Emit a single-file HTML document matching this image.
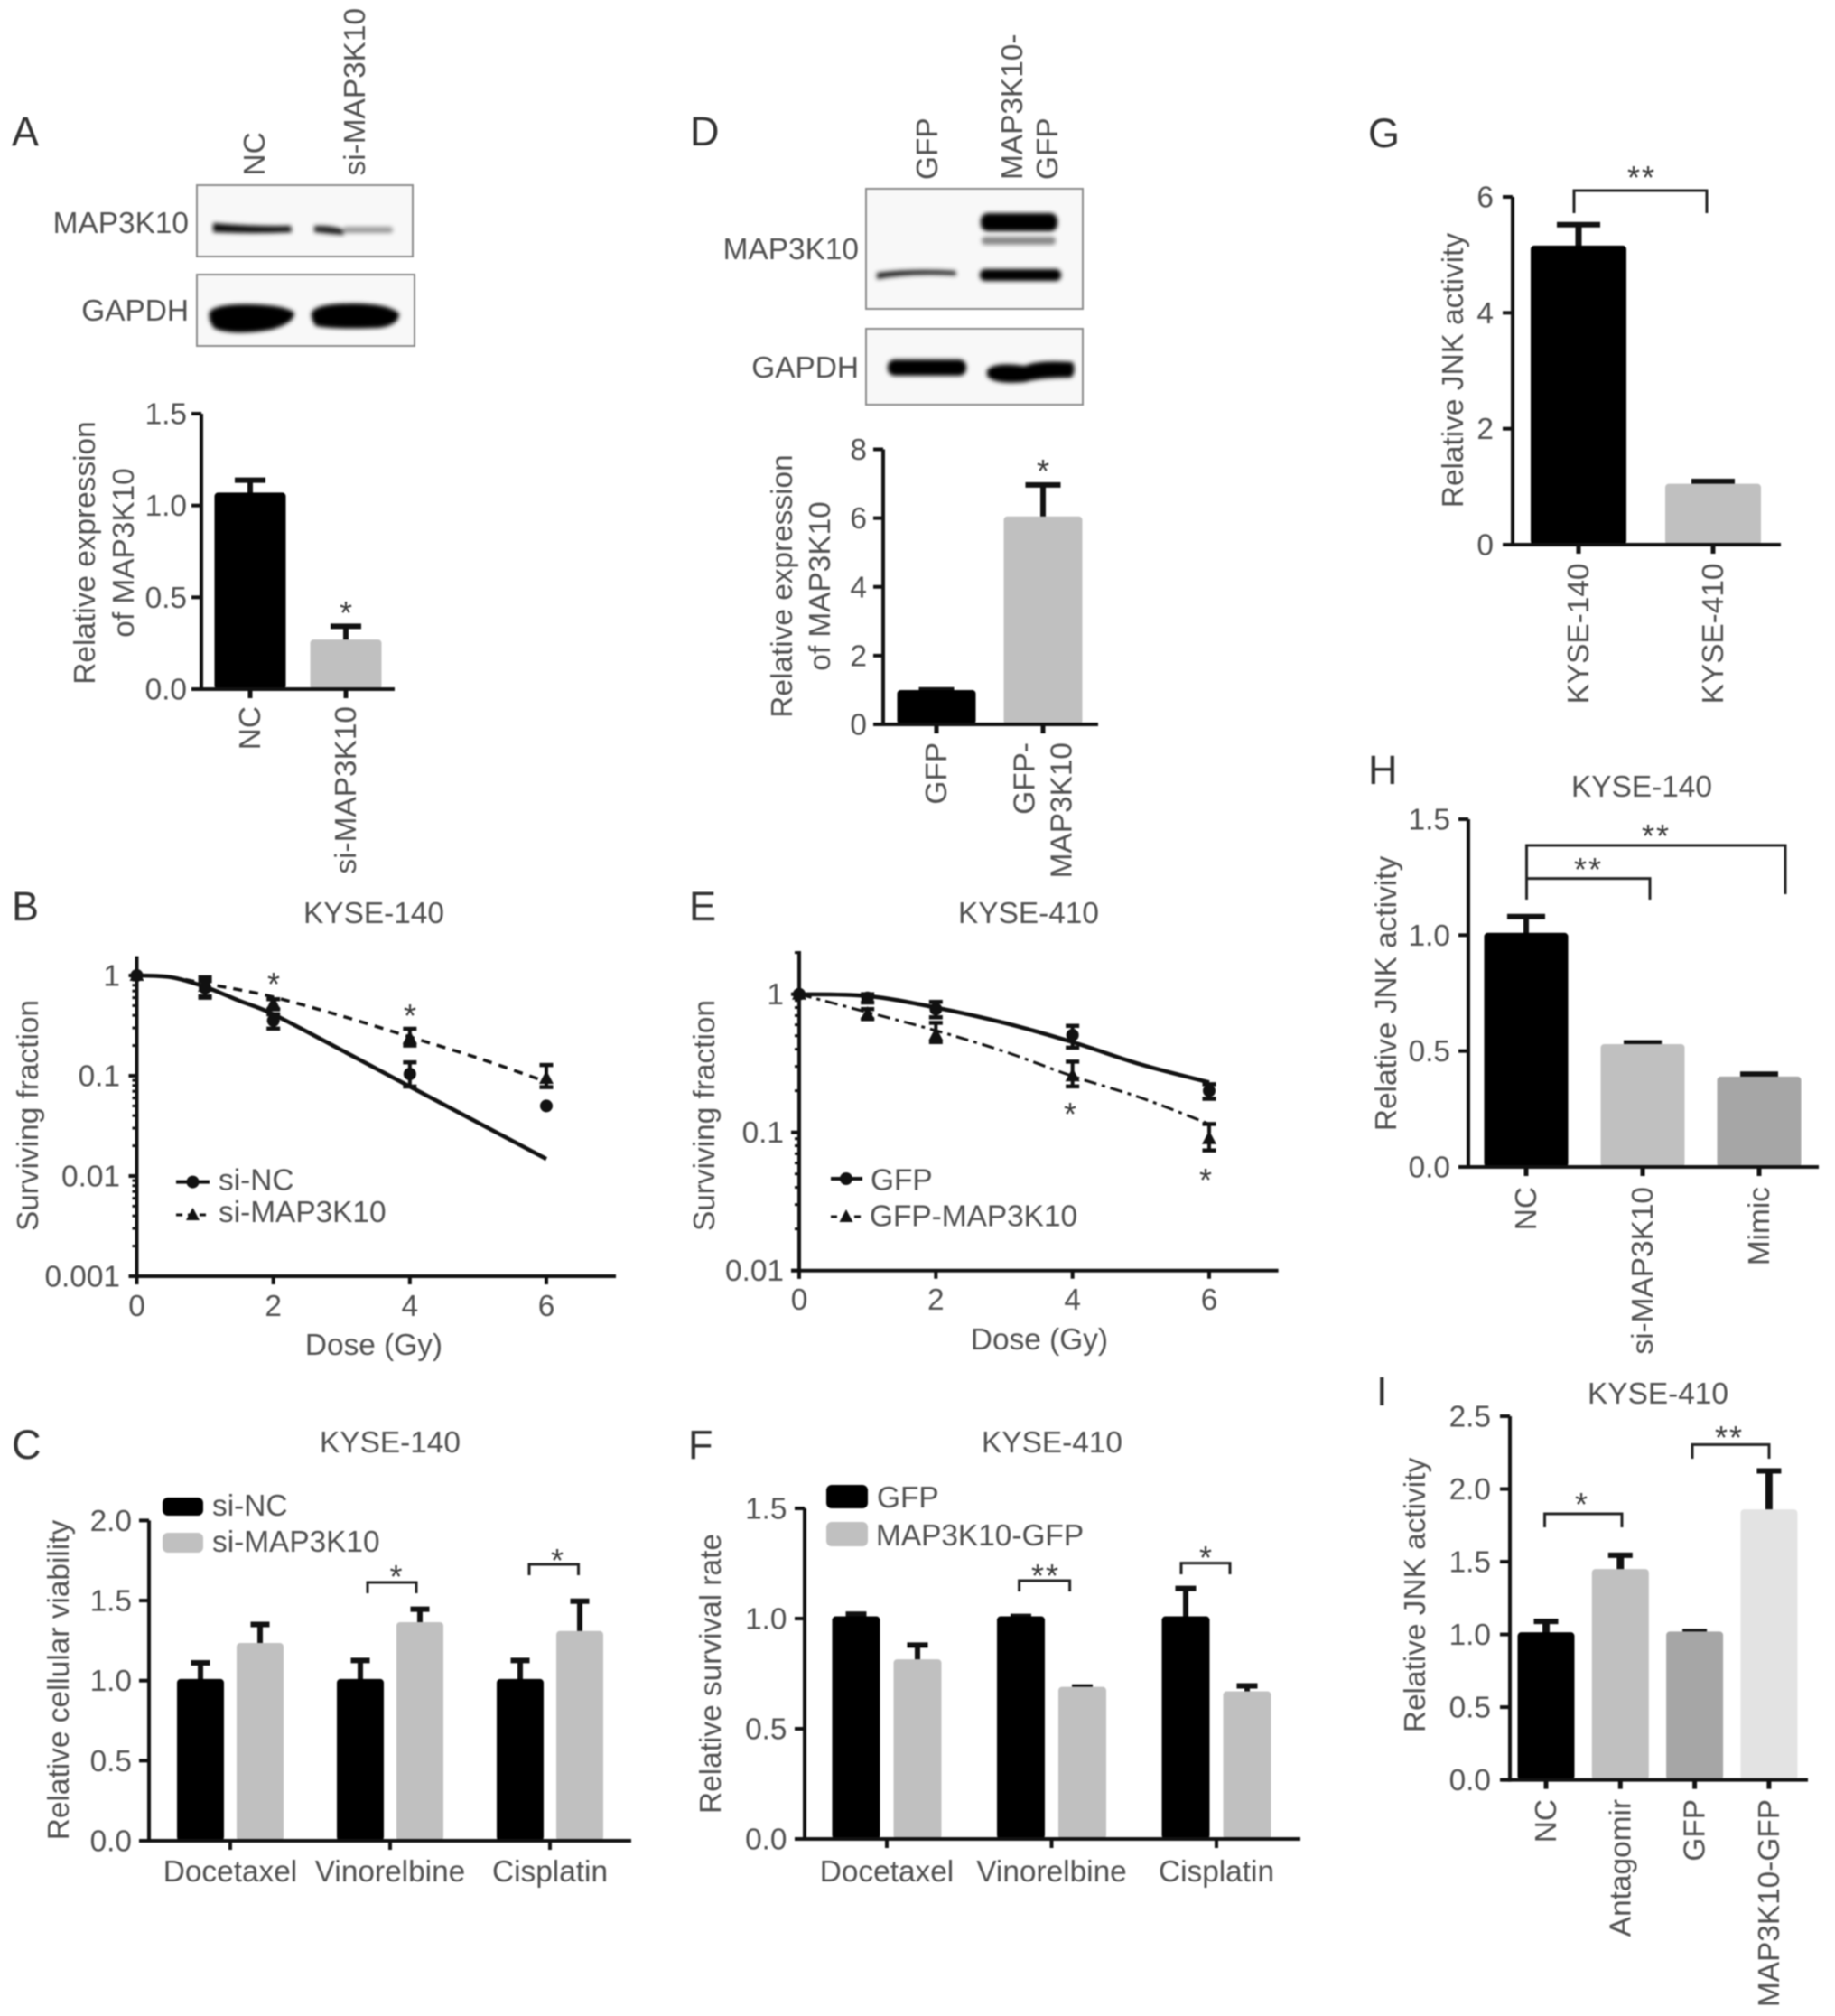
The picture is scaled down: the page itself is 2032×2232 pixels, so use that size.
<!DOCTYPE html>
<html lang="en">
<head>
<meta charset="utf-8">
<title>MAP3K10 multi-panel figure</title>
<style>
html,body{margin:0;padding:0;background:#fff;}
#figure{position:absolute;left:0;top:0;width:2032px;height:2232px;filter:blur(0.9px);}
text{font-family:"Liberation Sans",Arial,sans-serif;font-size:33.4px;fill:#505050;}
.letter{font-size:45px;fill:#333;}
.star{font-size:36px;fill:#3a3a3a;text-anchor:middle;letter-spacing:2px;}
.mid{text-anchor:middle;}
.end{text-anchor:end;}
.bracket{fill:none;stroke:#222;stroke-width:3;}
.blot{fill:#f8f8f8;stroke:#8a8a8a;stroke-width:2;}
</style>
</head>
<body>
<svg id="figure" xmlns="http://www.w3.org/2000/svg" width="2032" height="2232" viewBox="0 0 2032 2232">
<defs>
<filter id="soft" x="-20%" y="-80%" width="140%" height="260%"><feGaussianBlur stdDeviation="2.4"/></filter>
</defs>
<rect x="0" y="0" width="2032" height="2232" fill="#fff"/>

<!-- panel letters -->
<text class="letter" x="13" y="161">A</text>
<text class="letter" x="764" y="161">D</text>
<text class="letter" x="1515" y="163">G</text>
<text class="letter" x="1515" y="868">H</text>
<text class="letter" x="1524" y="1556">I</text>
<text class="letter" x="13" y="1019">B</text>
<text class="letter" x="763" y="1019">E</text>
<text class="letter" x="13" y="1615">C</text>
<text class="letter" x="762" y="1615">F</text>

<!-- blot A -->
<g>
<text transform="translate(293,194.5) rotate(-90)">NC</text>
<text transform="translate(404,194.5) rotate(-90)">si-MAP3K10</text>
<text class="end" x="209" y="258">MAP3K10</text>
<text class="end" x="209" y="355">GAPDH</text>
<rect class="blot" x="218" y="205" width="239" height="79"/>
<rect class="blot" x="218" y="304" width="241" height="79"/>
<g filter="url(#soft)">
<path d="M236 247Q280 251 322 250L323 257Q280 259 236 257Z" fill="#0a0a0a"/>
<path d="M348 250Q366 249 381 254L381 260Q364 259 348 257Z" fill="#222"/>
<rect x="380" y="251" width="55" height="7" rx="3" fill="#9a9a9a"/>
<path d="M232 345Q240 336 280 337Q315 338 326 346Q326 358 300 365Q260 372 238 364Q230 356 232 345Z" fill="#000"/>
<path d="M345 346Q350 336 390 336Q430 336 442 347Q442 360 420 363Q370 365 350 361Q344 354 345 346Z" fill="#000"/>
</g>
</g>

<!-- blot D -->
<g>
<text transform="translate(1038,199) rotate(-90)">GFP</text>
<text transform="translate(1132,199) rotate(-90)">MAP3K10-</text>
<text transform="translate(1171,199) rotate(-90)">GFP</text>
<text class="end" x="951" y="287">MAP3K10</text>
<text class="end" x="951" y="418">GAPDH</text>
<rect class="blot" x="959" y="209" width="240" height="133"/>
<rect class="blot" x="959" y="364" width="240" height="84"/>
<g filter="url(#soft)">
<path d="M971 302Q1010 297 1058 300L1059 305Q1010 302 971 309Z" fill="#222"/>
<rect x="1086" y="236" width="85" height="20" rx="8" fill="#000"/>
<rect x="1087" y="262" width="82" height="9" rx="4" fill="#888"/>
<rect x="1085" y="298" width="90" height="13" rx="6" fill="#050505"/>
<rect x="983" y="398" width="87" height="18" rx="8" fill="#000"/>
<path d="M1093 410 Q1100 400 1135 405 Q1150 398 1188 401 Q1192 412 1186 418 Q1150 418 1135 423 Q1100 426 1093 416 Z" fill="#000"/>
</g>
</g>

<!-- panel titles -->
<text class="mid" x="414" y="1022">KYSE-140</text>
<text class="mid" x="1139" y="1022">KYSE-410</text>
<text class="mid" x="432" y="1608">KYSE-140</text>
<text class="mid" x="1165" y="1608">KYSE-410</text>
<text class="mid" x="1818" y="882">KYSE-140</text>
<text class="mid" x="1836" y="1554">KYSE-410</text>

<!-- y-axis titles -->
<text class="mid" transform="translate(105,612) rotate(-90)">Relative expression</text>
<text class="mid" transform="translate(148,612) rotate(-90)">of MAP3K10</text>
<text class="mid" transform="translate(877,649) rotate(-90)">Relative expression</text>
<text class="mid" transform="translate(919,649) rotate(-90)">of MAP3K10</text>
<text class="mid" transform="translate(1620,410) rotate(-90)">Relative JNK activity</text>
<text class="mid" transform="translate(1546,1100) rotate(-90)">Relative JNK activity</text>
<text class="mid" transform="translate(1578,1766) rotate(-90)">Relative JNK activity</text>
<text class="mid" transform="translate(42,1235) rotate(-90)">Surviving fraction</text>
<text class="mid" transform="translate(791,1235) rotate(-90)">Surviving fraction</text>
<text class="mid" transform="translate(76,1860) rotate(-90)">Relative cellular viability</text>
<text class="mid" transform="translate(798,1853) rotate(-90)">Relative survival rate</text>

<!-- x-axis titles -->
<text class="mid" x="414" y="1500">Dose (Gy)</text>
<text class="mid" x="1151" y="1494">Dose (Gy)</text>

<!-- significance brackets -->
<path class="bracket" d="M1743 236V211H1890V236"/>
<path class="bracket" d="M1690.5 996V936H1977V990"/>
<path class="bracket" d="M1690.5 972.6H1827V996"/>
<path class="bracket" d="M1710.5 1691V1676H1796V1691"/>
<path class="bracket" d="M1874 1615V1599.4H1959V1615"/>
<path class="bracket" d="M407 1764V1752H461V1764"/>
<path class="bracket" d="M586 1744V1732H640.5V1744"/>
<path class="bracket" d="M1128.6 1762V1750H1184.6V1762"/>
<path class="bracket" d="M1308 1743V1730.6H1362V1743"/>

<!-- significance stars -->
<text class="star" x="384" y="691">*</text>
<text class="star" x="1156" y="534">*</text>
<text class="star" x="1818" y="209">**</text>
<text class="star" x="1834" y="938">**</text>
<text class="star" x="1759" y="975">**</text>
<text class="star" x="1752" y="1678">*</text>
<text class="star" x="1915" y="1604">**</text>
<text class="star" x="304" y="1102">*</text>
<text class="star" x="455" y="1137">*</text>
<text class="star" x="1186" y="1246">*</text>
<text class="star" x="1336" y="1319">*</text>
<text class="star" x="439.5" y="1758">*</text>
<text class="star" x="618" y="1740">*</text>
<text class="star" x="1158" y="1757">**</text>
<text class="star" x="1336" y="1737">*</text>

<!-- legends -->
<g>
<path d="M195 1308.6H232" stroke="#111" stroke-width="4"/>
<circle cx="213.5" cy="1308.6" r="7" fill="#111"/>
<text x="242" y="1317.5">si-NC</text>
<path d="M195 1345H232" stroke="#111" stroke-width="3" stroke-dasharray="7 6"/>
<path d="M213.5 1337L221 1351H206Z" fill="#111"/>
<text x="242" y="1353">si-MAP3K10</text>
</g>
<g>
<path d="M920 1305H955" stroke="#111" stroke-width="4"/>
<circle cx="937" cy="1305" r="7" fill="#111"/>
<text x="964" y="1317.5">GFP</text>
<path d="M920 1347H955" stroke="#111" stroke-width="3" stroke-dasharray="7 6"/>
<path d="M937 1339L944.5 1353H929.5Z" fill="#111"/>
<text x="963" y="1357.5">GFP-MAP3K10</text>
</g>
<g>
<rect x="180" y="1658" width="45" height="20" rx="6" fill="#000"/>
<text x="235" y="1678">si-NC</text>
<rect x="180" y="1697" width="45" height="22" rx="6" fill="#c0c0c0"/>
<text x="235" y="1718">si-MAP3K10</text>
</g>
<g>
<rect x="915" y="1644" width="46" height="26" rx="6" fill="#000"/>
<text x="971" y="1669">GFP</text>
<rect x="915" y="1685" width="46" height="27" rx="6" fill="#c0c0c0"/>
<text x="970" y="1711">MAP3K10-GFP</text>
</g>

<g id="charts"></g>
</svg>

<script>
// ---- Panel A ----
const panelACategories = ['NC', 'si-MAP3K10'];
const panelAValues = [1.07, 0.27];
const panelAErrors = [1.15, 0.355];
const panelATicks = ['0.0', '0.5', '1.0', '1.5'];
// ---- Panel D ----
const panelDCategories = ['GFP', 'GFP-\nMAP3K10'];
const panelDValues = [1.0, 6.05];
const panelDErrors = [1.07, 7.03];
const panelDTicks = ['0', '2', '4', '6', '8'];
// ---- Panel G ----
const panelGCategories = ['KYSE-140', 'KYSE-410'];
const panelGValues = [5.16, 1.05];
const panelGErrors = [5.56, 1.13];
const panelGTicks = ['0', '2', '4', '6'];
// ---- Panel H ----
const panelHCategories = ['NC', 'si-MAP3K10', 'Mimic'];
const panelHValues = [1.01, 0.53, 0.39];
const panelHErrors = [1.09, 0.545, 0.41];
const panelHTicks = ['0.0', '0.5', '1.0', '1.5'];
// ---- Panel I ----
const panelICategories = ['NC', 'Antagomir', 'GFP', 'MAP3K10-GFP'];
const panelIValues = [1.015, 1.45, 1.02, 1.86];
const panelIErrors = [1.105, 1.56, 1.035, 2.14];
const panelITicks = ['0.0', '0.5', '1.0', '1.5', '2.0', '2.5'];
// ---- Panel C ----
const panelCCategories = ['Docetaxel', 'Vinorelbine', 'Cisplatin'];
const panelCControlValues = [1.01, 1.01, 1.01];
const panelCControlErrors = [1.125, 1.14, 1.14];
const panelCTreatedValues = [1.235, 1.365, 1.31];
const panelCTreatedErrors = [1.365, 1.46, 1.51];
const panelCTicks = ['0.0', '0.5', '1.0', '1.5', '2.0'];
// ---- Panel F ----
const panelFCategories = ['Docetaxel', 'Vinorelbine', 'Cisplatin'];
const panelFControlValues = [1.01, 1.01, 1.01];
const panelFControlErrors = [1.03, 1.02, 1.147];
const panelFTreatedValues = [0.815, 0.69, 0.67];
const panelFTreatedErrors = [0.89, 0.70, 0.705];
const panelFTicks = ['0.0', '0.5', '1.0', '1.5'];
// ---- Panel B ----
const panelBDoses = [0, 1, 2, 4, 6];
const panelBNcValues = [1, 0.75, 0.355, 0.104, 0.05];
const panelBNcLow = [1, 0.62, 0.295, 0.078, 0.05];
const panelBNcHigh = [1, 0.88, 0.41, 0.136, 0.05];
const panelBSiValues = [1, 0.78, 0.52, 0.236, 0.094];
const panelBSiLow = [1, 0.6, 0.46, 0.2, 0.077];
const panelBSiHigh = [1, 0.96, 0.58, 0.294, 0.128];
const panelBFitDoses = [0, 0.5, 1, 1.5, 2, 3, 4, 5, 6];
const panelBNcFit = [1, 0.96, 0.77, 0.56, 0.41, 0.18, 0.078, 0.034, 0.0148];
const panelBSiFit = [1, 0.96, 0.83, 0.72, 0.61, 0.395, 0.244, 0.15, 0.087];
const panelBYTicks = ['0.001', '0.01', '0.1', '1'];
const panelBXTicks = ['0', '2', '4', '6'];
// ---- Panel E ----
const panelEDoses = [0, 1, 2, 4, 6];
const panelEGfpValues = [1, 0.94, 0.78, 0.506, 0.2];
const panelEGfpLow = [1, 0.87, 0.68, 0.41, 0.175];
const panelEGfpHigh = [1, 1.0, 0.88, 0.59, 0.223];
const panelEMapValues = [1, 0.715, 0.506, 0.256, 0.09];
const panelEMapLow = [1, 0.66, 0.45, 0.215, 0.074];
const panelEMapHigh = [1, 0.78, 0.62, 0.325, 0.115];
const panelEFitDoses = [0, 1, 2, 3, 4, 5, 6];
const panelEGfpFit = [1, 0.97, 0.8, 0.62, 0.45, 0.31, 0.23];
const panelEMapFit = [1, 0.74, 0.545, 0.385, 0.255, 0.178, 0.115];
const panelEYTicks = ['0.01', '0.1', '1'];
const panelEXTicks = ['0', '2', '4', '6'];

const SVG_NS = 'http://www.w3.org/2000/svg';
const root = document.getElementById('charts');

function make(tag, parent, name) {
  const el = document.createElementNS(SVG_NS, tag);
  
  
  parent.appendChild(el);
  return el;
}
function line(parent, name, x1, y1, x2, y2, width, color) {
  const el = make('line', parent, name);
  el.setAttribute('x1', x1);
  el.setAttribute('y1', y1);
  el.setAttribute('x2', x2);
  el.setAttribute('y2', y2);
  el.setAttribute('stroke', color || '#111');
  el.setAttribute('stroke-width', width);
  return el;
}
function label(parent, name, str, x, y, anchor, rotated) {
  const el = make('text', parent, name);
  el.textContent = str;
  el.setAttribute('text-anchor', anchor);
  if (rotated) {
    el.setAttribute('transform', 'translate(' + x + ',' + y + ') rotate(-90)');
  } else {
    el.setAttribute('x', x);
    el.setAttribute('y', y);
  }
  return el;
}
function linearScale(v0, v1, p0, p1) {
  return function (v) { return p0 + (v - v0) * (p1 - p0) / (v1 - v0); };
}
function logScale(pixelAtOne, pixelsPerDecade) {
  return function (v) { return pixelAtOne - Math.log10(v) * pixelsPerDecade; };
}

function drawYAxis(g, prefix, scale, ticks, axisX, topY, labelRight) {
  const vals = ticks.map(Number);
  const bottom = scale(Math.min.apply(null, vals));
  line(g, prefix + '-y-axis', axisX, topY, axisX, bottom + 2, 4);
  ticks.forEach(function (t) {
    const y = scale(Number(t));
    line(g, prefix + '-y-tick', axisX - 11, y, axisX, y, 4);
    label(g, prefix + '-y-tick-label', t, labelRight, y + 11.5, 'end', false);
  });
}

function drawBar(g, prefix, cx, width, value, err, yScale, fill, capWidth, stem) {
  const top = yScale(value);
  const base = yScale(0);
  const errEnd = yScale(err);
  line(g, prefix + '-error-stem', cx, top + 3, cx, errEnd, stem);
  line(g, prefix + '-error-cap', cx - capWidth / 2, errEnd + 2.5, cx + capWidth / 2, errEnd + 2.5, 6);
  const bar = make('rect', g, prefix + '-bar');
  bar.setAttribute('x', cx - width / 2);
  bar.setAttribute('y', top);
  bar.setAttribute('width', width);
  bar.setAttribute('height', base - top);
  bar.setAttribute('rx', 4);
  bar.setAttribute('fill', fill);
}

function drawBarPanel(cfg) {
  const g = make('g', root, cfg.prefix + '-chart');
  const y = linearScale(cfg.v0, cfg.v1, cfg.p0, cfg.p1);
  const x = function (i) { return cfg.first + i * cfg.step; };
  cfg.values.forEach(function (v, i) {
    drawBar(g, cfg.prefix + '-' + i, x(i), cfg.barWidth, v, cfg.errors[i], y, cfg.colors[i], cfg.capWidth, cfg.stem);
  });
  drawYAxis(g, cfg.prefix, y, cfg.ticks, cfg.axisX, cfg.p1, cfg.labelRight);
  line(g, cfg.prefix + '-x-axis', cfg.axisX - 9, cfg.p0, cfg.axisEnd, cfg.p0, 4);
  cfg.categories.forEach(function (c, i) {
    line(g, cfg.prefix + '-x-tick', x(i), cfg.p0, x(i), cfg.p0 + 10, 5);
    const rows = c.split('\n');
    rows.forEach(function (row, r) {
      const off = 11 + (r - (rows.length - 1) / 2) * 41;
      label(g, cfg.prefix + '-x-tick-label', row, x(i) + off, cfg.labelTop, 'end', true);
    });
  });
}

function drawGroupedPanel(cfg) {
  const g = make('g', root, cfg.prefix + '-chart');
  const y = linearScale(cfg.v0, cfg.v1, cfg.p0, cfg.p1);
  const x = function (i) { return cfg.first + i * cfg.step; };
  cfg.categories.forEach(function (c, i) {
    drawBar(g, cfg.prefix + '-control-' + i, x(i) - cfg.offset, cfg.barWidth, cfg.controlValues[i], cfg.controlErrors[i], y, '#000', cfg.capWidth, 6);
    drawBar(g, cfg.prefix + '-treated-' + i, x(i) + cfg.offset, cfg.barWidth, cfg.treatedValues[i], cfg.treatedErrors[i], y, '#c0c0c0', cfg.capWidth, 6);
  });
  drawYAxis(g, cfg.prefix, y, cfg.ticks, cfg.axisX, cfg.p1, cfg.labelRight);
  line(g, cfg.prefix + '-x-axis', cfg.axisX - 9, cfg.p0, cfg.axisEnd, cfg.p0, 4);
  cfg.categories.forEach(function (c, i) {
    line(g, cfg.prefix + '-x-tick', x(i), cfg.p0, x(i), cfg.p0 + 10, 4);
    label(g, cfg.prefix + '-x-tick-label', c, x(i), cfg.labelBase, 'middle', false);
  });
}

function smoothPath(pts) {
  let d = 'M' + pts[0][0] + ' ' + pts[0][1];
  for (let i = 0; i < pts.length - 1; i++) {
    const p0 = pts[Math.max(i - 1, 0)];
    const p1 = pts[i];
    const p2 = pts[i + 1];
    const p3 = pts[Math.min(i + 2, pts.length - 1)];
    d += 'C' + (p1[0] + (p2[0] - p0[0]) / 6) + ' ' + (p1[1] + (p2[1] - p0[1]) / 6) + ' ' +
         (p2[0] - (p3[0] - p1[0]) / 6) + ' ' + (p2[1] - (p3[1] - p1[1]) / 6) + ' ' + p2[0] + ' ' + p2[1];
  }
  return d;
}

function drawSeries(g, prefix, x, y, doses, values, low, high, fitDoses, fit, shape, dash, fitWidth) {
  const path = make('path', g, prefix + '-fit-line');
  path.setAttribute('d', smoothPath(fitDoses.map(function (d, i) { return [x(d), y(fit[i])]; })));
  path.setAttribute('fill', 'none');
  path.setAttribute('stroke', '#111');
  path.setAttribute('stroke-width', fitWidth);
  if (dash) { path.setAttribute('stroke-dasharray', dash); }
  doses.forEach(function (d, i) {
    const px = x(d);
    const py = y(values[i]);
    if (high[i] !== low[i]) {
      line(g, prefix + '-error-stem', px, y(low[i]), px, y(high[i]), 4);
      line(g, prefix + '-error-cap-high', px - 7.5, y(high[i]), px + 7.5, y(high[i]), 4.5);
      line(g, prefix + '-error-cap-low', px - 7.5, y(low[i]), px + 7.5, y(low[i]), 4.5);
    }
    if (shape === 'circle') {
      const c = make('circle', g, prefix + '-point');
      c.setAttribute('cx', px);
      c.setAttribute('cy', py);
      c.setAttribute('r', 7);
      c.setAttribute('fill', '#111');
    } else {
      const t = make('path', g, prefix + '-point');
      t.setAttribute('d', 'M' + px + ' ' + (py - 9) + 'L' + (px + 8) + ' ' + (py + 6) + 'H' + (px - 8) + 'Z');
      t.setAttribute('fill', '#111');
    }
  });
}

function drawLogAxes(g, prefix, x, y, yTicks, xTicks, axisX, topY, axisEnd, labelRight, xLabelBase) {
  const bottom = y(Number(yTicks[0]));
  yTicks.forEach(function (t) {
    const base = Number(t);
    for (let m = 2; m < 10; m++) {
      const py = y(base * m);
      if (py > topY) { line(g, prefix + '-y-minor-tick', axisX - 5, py, axisX, py, 3); }
    }
    line(g, prefix + '-y-tick', axisX - 9, y(base), axisX, y(base), 4);
    label(g, prefix + '-y-tick-label', t, labelRight, y(base) + 11.5, 'end', false);
  });
  line(g, prefix + '-y-axis', axisX, topY, axisX, bottom + 9, 4);
  line(g, prefix + '-x-axis', axisX - 9, bottom, axisEnd, bottom, 4);
  xTicks.forEach(function (t) {
    const px = x(Number(t));
    line(g, prefix + '-x-tick', px, bottom, px, bottom + 9, 4);
    label(g, prefix + '-x-tick-label', t, px, xLabelBase, 'middle', false);
  });
}

drawBarPanel({ prefix: 'panel-a', categories: panelACategories, values: panelAValues, errors: panelAErrors, ticks: panelATicks,
  v0: 0, v1: 1.5, p0: 763, p1: 458, first: 277, step: 106, barWidth: 79, capWidth: 34, stem: 6,
  colors: ['#000', '#c0c0c0'], axisX: 223, axisEnd: 437, labelRight: 207, labelTop: 782 });
drawBarPanel({ prefix: 'panel-d', categories: panelDCategories, values: panelDValues, errors: panelDErrors, ticks: panelDTicks,
  v0: 0, v1: 8, p0: 802, p1: 497.5, first: 1037, step: 118, barWidth: 87, capWidth: 39, stem: 6,
  colors: ['#000', '#c0c0c0'], axisX: 978, axisEnd: 1216, labelRight: 960, labelTop: 822 });
drawBarPanel({ prefix: 'panel-g', categories: panelGCategories, values: panelGValues, errors: panelGErrors, ticks: panelGTicks,
  v0: 0, v1: 6, p0: 603, p1: 218, first: 1748, step: 149, barWidth: 106, capWidth: 48, stem: 7,
  colors: ['#000', '#c0c0c0'], axisX: 1675, axisEnd: 1972, labelRight: 1654, labelTop: 623.5 });
drawBarPanel({ prefix: 'panel-h', categories: panelHCategories, values: panelHValues, errors: panelHErrors, ticks: panelHTicks,
  v0: 0, v1: 1.5, p0: 1292, p1: 907, first: 1690, step: 129, barWidth: 93, capWidth: 42, stem: 6,
  colors: ['#000', '#c0c0c0', '#a6a6a6'], axisX: 1626, axisEnd: 2014, labelRight: 1606, labelTop: 1314 });
drawBarPanel({ prefix: 'panel-i', categories: panelICategories, values: panelIValues, errors: panelIErrors, ticks: panelITicks,
  v0: 0, v1: 2.5, p0: 1970.6, p1: 1568, first: 1712, step: 82.3, barWidth: 63, capWidth: 27, stem: 8,
  colors: ['#000', '#c0c0c0', '#a6a6a6', '#e3e3e3'], axisX: 1672, axisEnd: 2002, labelRight: 1651, labelTop: 1992 });
drawGroupedPanel({ prefix: 'panel-c', categories: panelCCategories, controlValues: panelCControlValues, controlErrors: panelCControlErrors,
  treatedValues: panelCTreatedValues, treatedErrors: panelCTreatedErrors, ticks: panelCTicks,
  v0: 0, v1: 2, p0: 2038, p1: 1683.4, first: 255, step: 177, offset: 33, barWidth: 52, capWidth: 21,
  axisX: 165, axisEnd: 699, labelRight: 146, labelBase: 2083 });
drawGroupedPanel({ prefix: 'panel-f', categories: panelFCategories, controlValues: panelFControlValues, controlErrors: panelFControlErrors,
  treatedValues: panelFTreatedValues, treatedErrors: panelFTreatedErrors, ticks: panelFTicks,
  v0: 0, v1: 1.5, p0: 2036, p1: 1670, first: 982, step: 182.5, offset: 34, barWidth: 53, capWidth: 23,
  axisX: 891, axisEnd: 1440, labelRight: 871.5, labelBase: 2083 });

const panelBGroup = make('g', root, 'panel-b-chart');
const panelBX = linearScale(0, 6, 151.5, 605);
const panelBY = logScale(1080, 111);
drawSeries(panelBGroup, 'panel-b-si-map3k10', panelBX, panelBY, panelBDoses, panelBSiValues, panelBSiLow, panelBSiHigh, panelBFitDoses, panelBSiFit, 'triangle', '10 8', 3.5);
drawSeries(panelBGroup, 'panel-b-si-nc', panelBX, panelBY, panelBDoses, panelBNcValues, panelBNcLow, panelBNcHigh, panelBFitDoses, panelBNcFit, 'circle', null, 4.5);
drawLogAxes(panelBGroup, 'panel-b', panelBX, panelBY, panelBYTicks, panelBXTicks, 151.5, 1058.6, 682, 133, 1457);

const panelEGroup = make('g', root, 'panel-e-chart');
const panelEX = linearScale(0, 6, 885, 1339);
const panelEY = logScale(1100.7, 153);
drawSeries(panelEGroup, 'panel-e-gfp-map3k10', panelEX, panelEY, panelEDoses, panelEMapValues, panelEMapLow, panelEMapHigh, panelEFitDoses, panelEMapFit, 'triangle', '14 6 4 6', 3);
drawSeries(panelEGroup, 'panel-e-gfp', panelEX, panelEY, panelEDoses, panelEGfpValues, panelEGfpLow, panelEGfpHigh, panelEFitDoses, panelEGfpFit, 'circle', null, 4.5);
drawLogAxes(panelEGroup, 'panel-e', panelEX, panelEY, panelEYTicks, panelEXTicks, 885, 1053, 1415.6, 868, 1450);
</script>
</body>
</html>
